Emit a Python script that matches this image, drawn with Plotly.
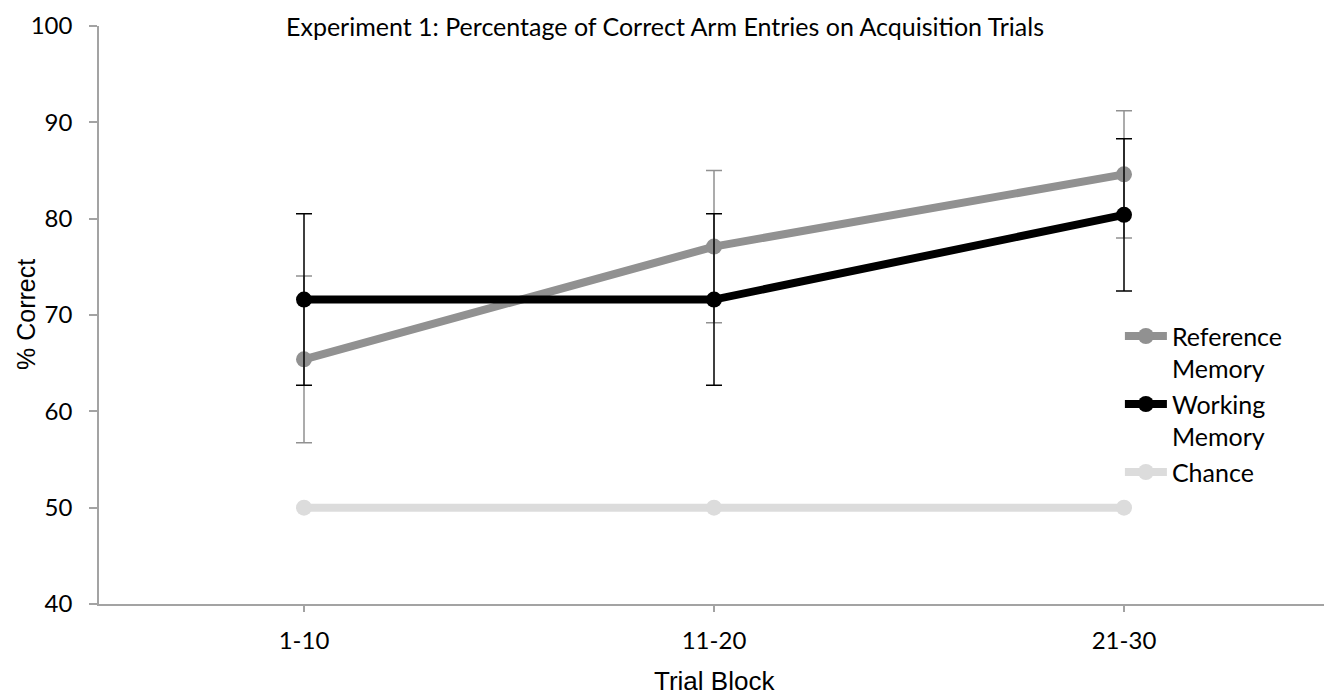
import plotly.graph_objects as go

# ---- data ----
categories = ["1-10", "11-20", "21-30"]
ref_values = [65.4, 77.1, 84.6]
ref_err = [8.65, 7.9, 6.6]
wm_values = [71.6, 71.6, 80.4]
wm_err = [8.9, 8.9, 7.9]
chance_values = [50, 50, 50]

x_pos = list(range(len(categories)))

REF_COL = "#919191"
WM_COL = "#000000"
CH_COL = "#dcdcdc"
AX_COL = "#a3a3a3"

# the page body has an 8px margin, so the figure is drawn 8px in from the corner
W, H = 1324, 690

fig = go.Figure()

fig.add_trace(go.Scatter(
    x=x_pos, y=ref_values, name="Reference<br>Memory", mode="lines+markers",
    line=dict(color=REF_COL, width=8), marker=dict(color=REF_COL, size=16),
    error_y=dict(type="data", array=ref_err, visible=True, color=REF_COL,
                 thickness=1.5, width=8),
    legendgroup="a",
))
fig.add_trace(go.Scatter(
    x=x_pos, y=wm_values, name="Working<br>Memory", mode="lines+markers",
    line=dict(color=WM_COL, width=8), marker=dict(color=WM_COL, size=16),
    error_y=dict(type="data", array=wm_err, visible=True, color=WM_COL,
                 thickness=1.5, width=8),
    legendgroup="b",
))
fig.add_trace(go.Scatter(
    x=x_pos, y=chance_values, name="Chance", mode="lines+markers",
    line=dict(color=CH_COL, width=8), marker=dict(color=CH_COL, size=16),
    legendgroup="c",
))

fig.update_layout(
    width=W, height=H,
    margin=dict(l=91, r=3, t=18, b=94),
    paper_bgcolor="white", plot_bgcolor="white",
    title=dict(text="Experiment 1: Percentage of Correct Arm Entries on Acquisition Trials",
               font=dict(family="Lato", size=25, color="black"),
               x=(665 - 8) / W, xref="container", xanchor="center",
               y=1 - 19 / H, yref="container", yanchor="middle"),
    legend=dict(x=0.830, y=0.503, xanchor="left", yanchor="top",
                font=dict(family="Lato", size=25, color="black"),
                valign="top", traceorder="grouped", tracegroupgap=0,
                bgcolor="rgba(0,0,0,0)", itemwidth=42),
    showlegend=True,
)

fig.update_xaxes(
    range=[-0.5, len(categories) - 0.5],
    tickmode="array",
    tickvals=x_pos + [len(categories) - 0.5],
    ticktext=categories + [""],
    showline=True, linecolor=AX_COL, linewidth=1.5,
    ticks="outside", ticklen=6, tickcolor=AX_COL, tickwidth=1.5,
    showgrid=False, zeroline=False,
    tickfont=dict(family="Lato", size=24, color="black"),
    ticklabelstandoff=8,
)
fig.update_yaxes(
    range=[40, 100], dtick=10, tick0=40,
    showline=True, linecolor=AX_COL, linewidth=1.5,
    ticks="outside", ticklen=8, tickcolor=AX_COL, tickwidth=1.5,
    showgrid=False, zeroline=False,
    tickfont=dict(family="Lato", size=24, color="black"),
    ticklabelstandoff=12,
)

fig.add_annotation(text="Trial Block", xref="paper", yref="paper", x=0.5, y=0,
                   xanchor="center", yanchor="middle", yshift=-77, showarrow=False,
                   font=dict(family="Liberation Sans", size=26, color="black"))
fig.add_annotation(text="% Correct", xref="paper", yref="paper", x=0, y=0.5,
                   xanchor="center", yanchor="middle", xshift=-73, textangle=-90,
                   showarrow=False,
                   font=dict(family="Liberation Sans", size=25, color="black"))

fig.write_html("out.html")
